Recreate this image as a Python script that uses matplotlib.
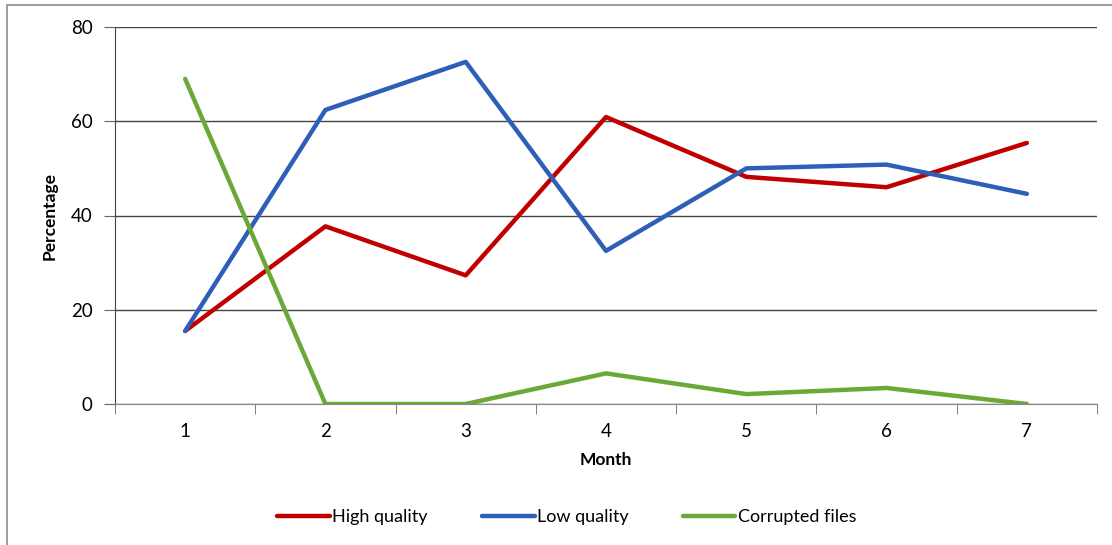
import matplotlib
matplotlib.use("Agg")
from matplotlib import pyplot as plt
from matplotlib.patches import Rectangle

plt.rcParams['font.family'] = ['Lato', 'DejaVu Sans']

months = [1, 2, 3, 4, 5, 6, 7]
high_quality = [15.5, 37.7, 27.3, 60.9, 48.2, 46.0, 55.4]
low_quality = [15.5, 62.4, 72.6, 32.5, 50.0, 50.8, 44.6]
corrupted = [69.0, 0.0, 0.0, 6.5, 2.1, 3.4, 0.0]

fig = plt.figure(figsize=(11.12, 5.45), dpi=100)
W, H = 1112, 545
# axes box in pixel coords
ax = fig.add_axes([115 / W, 1 - 404 / H, (1097 - 115) / W, (404 - 27) / H])

# outer chart frame (Excel style)
fig.patches.append(Rectangle((7 / W, -0.1), 1.2, 1 - 5 / H + 0.1, transform=fig.transFigure,
                             fill=False, edgecolor='#8c8c8c', linewidth=1.2))

x = list(range(len(months)))
ax.plot(x, high_quality, color='#c00000', lw=3.2, label='High quality', solid_capstyle='round')
ax.plot(x, low_quality, color='#2e5fb8', lw=3.2, label='Low quality', solid_capstyle='round')
ax.plot(x, corrupted, color='#6aa838', lw=3.2, label='Corrupted files', solid_capstyle='round')

ax.set_xlim(-0.5, len(months) - 0.5)
ax.set_ylim(0, 80)
ax.set_yticks([0, 20, 40, 60, 80])
ax.yaxis.grid(True, color='#444444', lw=1)
ax.set_axisbelow(True)

ax.set_xticks(x)
ax.set_xticklabels([str(m) for m in months])
ax.set_xticks([i - 0.5 for i in range(len(months) + 1)], minor=True)
ax.tick_params(axis='x', which='major', length=0, labelsize=13.5, pad=14)
ax.tick_params(axis='x', which='minor', length=7, color='#666666')
ax.tick_params(axis='y', length=8, labelsize=13.5, pad=8, color='#666666')

for s in ['top', 'right']:
    ax.spines[s].set_visible(False)
ax.spines['left'].set_color('#444444')
ax.spines['bottom'].set_color('#888888')

ax.set_xlabel('Month', fontsize=12.5, fontweight='bold', labelpad=8)
ax.set_ylabel('Percentage', fontsize=12.5, fontweight='bold', labelpad=10)

fig.legend(loc='center', bbox_to_anchor=(567 / W, 1 - 517 / H), ncol=3, frameon=False,
           fontsize=13, handlelength=2.9, handletextpad=0.15, columnspacing=3.0)

fig.savefig('out.png', dpi=100)
